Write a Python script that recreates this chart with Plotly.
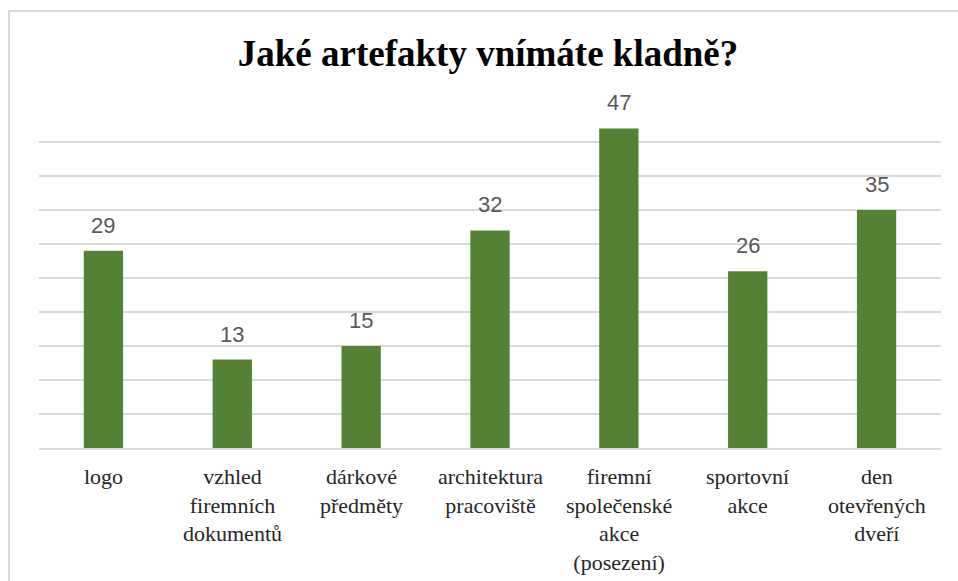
import plotly.graph_objects as go

categories = [
    "logo",
    "vzhled<br>firemních<br>dokumentů",
    "dárkové<br>předměty",
    "architektura<br>pracoviště",
    "firemní<br>společenské<br>akce<br>(posezení)",
    "sportovní<br>akce",
    "den<br>otevřených<br>dveří",
]
values = [29, 13, 15, 32, 47, 26, 35]
title_text = "Jaké artefakty vnímáte kladně?"

W, H = 958, 581
ML, MR, MT, MB = 39, 17, 107, 133
PW, PH = W - ML - MR, H - MT - MB

SERIF = "Liberation Serif"


def px_x(p):
    return (p - ML) / PW


def px_y(p):
    return (H - MB - p) / PH


fig = go.Figure()
fig.add_trace(go.Bar(
    x=categories,
    y=values,
    marker=dict(color="#548235", line=dict(width=0)),
    width=0.305,
    hoverinfo="y",
))

# value labels above bars
for c, v in zip(categories, values):
    fig.add_annotation(
        x=c, y=v, text=str(v), showarrow=False,
        yanchor="bottom", yshift=11,
        font=dict(family="Arial", size=22, weight=400, color="#595959"),
    )

# category labels below the axis
for c in categories:
    fig.add_annotation(
        x=c, y=0, text=c, showarrow=False,
        xanchor="center", yanchor="top", yshift=-14, align="center",
        font=dict(family=SERIF, size=22, weight=400, color="#262626"),
    )

fig.add_shape(
    type="rect", xref="paper", yref="paper",
    x0=px_x(9), x1=px_x(990), y0=px_y(11), y1=px_y(620),
    line=dict(color="#d9d9d9", width=2), fillcolor="rgba(0,0,0,0)", layer="below",
)

fig.update_layout(
    width=W, height=H,
    margin=dict(l=ML, r=MR, t=MT, b=MB, pad=0, autoexpand=False),
    paper_bgcolor="white", plot_bgcolor="white",
    showlegend=False,
    title=dict(
        text="<b>" + title_text + "</b>",
        x=488 / W, xanchor="center", xref="container",
        y=1 - 53 / H, yanchor="middle", yref="container",
        font=dict(family=SERIF, size=37, color="#000000"),
    ),
)
fig.update_xaxes(
    showgrid=False, zeroline=False,
    showline=True, linecolor="#d9d9d9", linewidth=2,
    ticks="", showticklabels=False, automargin=False,
)
fig.update_yaxes(
    range=[0, 341 / 6.8], dtick=5, tick0=0,
    showgrid=True, gridcolor="#d9d9d9", gridwidth=1.5,
    zeroline=False, showline=False, showticklabels=False, ticks="",
    automargin=False,
)

fig.write_html("out.html")
